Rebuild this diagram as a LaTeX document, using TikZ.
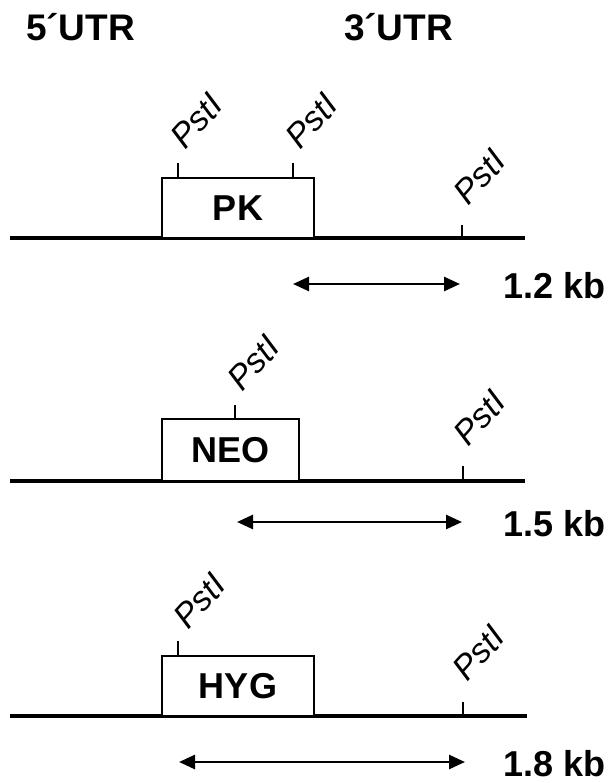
\documentclass[tikz,border=0pt]{standalone}
\usepackage{fontspec}
\setmainfont{Liberation Sans}
\usetikzlibrary{arrows.meta}
\begin{document}
\begin{tikzpicture}[x=1pt,y=-1pt,
  dna/.style={line width=3.2pt},
  gene/.style={draw, line width=2pt, fill=white, inner sep=0pt, minimum height=60pt, font=\bfseries\fontsize{36}{40}\selectfont},
  site/.style={line width=1.6pt},
  enz/.style={rotate=48, anchor=south west, inner sep=0pt, font=\itshape\fontsize{34}{36}\selectfont},
  sizearrow/.style={line width=2.6pt, {Triangle[length=16pt,width=14pt]}-{Triangle[length=16pt,width=14pt]}},
  kb/.style={font=\bfseries\fontsize{36}{40}\selectfont, inner sep=0pt},
  utr/.style={font=\bfseries\fontsize{37}{40}\selectfont, inner sep=0pt}]
\useasboundingbox (0,0) rectangle (607,783);

% headers
\node[utr] (u5) at (80.5,27) {5´UTR};
\node[utr] (u3) at (398.5,27) {3´UTR};

% ---------- row 1 : PK ----------
\coordinate (l1) at (10,238);
\coordinate (r1) at (525,238);
\draw[dna] (l1) -- (r1);
\node[gene, minimum width=152pt] (pk) at (238,208) {PK};
\coordinate (s1a) at (178,178); \coordinate (s1at) at (178,163);
\coordinate (s1b) at (293,178); \coordinate (s1bt) at (293,163);
\coordinate (s1c) at (462,238); \coordinate (s1ct) at (462,225);
\draw[site] (s1a) -- (s1at);
\draw[site] (s1b) -- (s1bt);
\draw[site] (s1c) -- (s1ct);
\node[enz] (e1a) at ([shift={(8,-12)}]s1at) {PstI};
\node[enz] (e1b) at ([shift={(8,-12)}]s1bt) {PstI};
\node[enz] (e1c) at ([shift={(7,-18)}]s1ct) {PstI};
\coordinate (a1l) at (293,284);
\coordinate (a1r) at (460,284);
\draw[sizearrow] (a1l) -- (a1r);
\node[kb, anchor=west] (k1) at (503,286) {1.2 kb};

% ---------- row 2 : NEO ----------
\coordinate (l2) at (10,481);
\coordinate (r2) at (525,481);
\draw[dna] (l2) -- (r2);
\node[gene, minimum width=137pt, minimum height=62pt] (neo) at (230.5,450) {NEO};
\coordinate (s2a) at (235,419); \coordinate (s2at) at (235,405);
\coordinate (s2c) at (463,481); \coordinate (s2ct) at (463,466);
\draw[site] (s2a) -- (s2at);
\draw[site] (s2c) -- (s2ct);
\node[enz] (e2a) at ([shift={(8,-12)}]s2at) {PstI};
\node[enz] (e2c) at ([shift={(6,-18)}]s2ct) {PstI};
\coordinate (a2l) at (237,522);
\coordinate (a2r) at (462,522);
\draw[sizearrow] (a2l) -- (a2r);
\node[kb, anchor=west] (k2) at (503,524) {1.5 kb};

% ---------- row 3 : HYG ----------
\coordinate (l3) at (10,716);
\coordinate (r3) at (527,716);
\draw[dna] (l3) -- (r3);
\node[gene, minimum width=152pt] (hyg) at (238,686) {HYG};
\coordinate (s3a) at (178,656); \coordinate (s3at) at (178,641);
\coordinate (s3c) at (463,716); \coordinate (s3ct) at (463,702);
\draw[site] (s3a) -- (s3at);
\draw[site] (s3c) -- (s3ct);
\node[enz] (e3a) at ([shift={(11,-10)}]s3at) {PstI};
\node[enz] (e3c) at ([shift={(5,-19)}]s3ct) {PstI};
\coordinate (a3l) at (179,762);
\coordinate (a3r) at (465,762);
\draw[sizearrow] (a3l) -- (a3r);
\node[kb, anchor=west] (k3) at (503,764) {1.8 kb};
\end{tikzpicture}
\end{document}
